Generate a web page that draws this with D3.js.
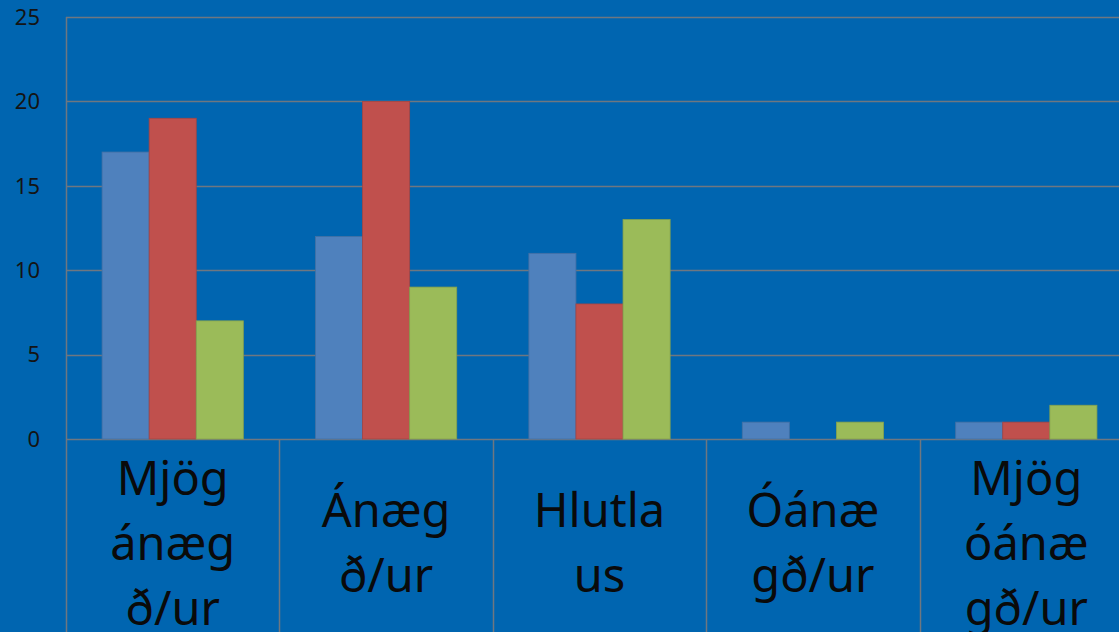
<!DOCTYPE html>
<html>
<head>
<meta charset="utf-8">
<script src="https://cdn.jsdelivr.net/npm/d3@7"></script>
<style>
  html, body { margin: 0; padding: 0; background: #0065b0; overflow: hidden; }
  svg { display: block; }
</style>
</head>
<body>
<svg class="chart"></svg>
<script>
const width = 1119,
  height = 632;

// category labels, wrapped the way the original cuts them
const categories = ['Mjög ánægð/ur', 'Ánægð/ur', 'Hlutlaus', 'Óánægð/ur', 'Mjög óánægð/ur'];
const labelLines = [
  ['Mjög', 'ánæg', 'ð/ur'],
  ['Ánæg', 'ð/ur'],
  ['Hlutla', 'us'],
  ['Óánæ', 'gð/ur'],
  ['Mjög', 'óánæ', 'gð/ur']
];
const seriesNames = ['Röð 1', 'Röð 2', 'Röð 3'];
const series1 = [17, 12, 11, 1, 1];
const series2 = [19, 20, 8, 0, 1];
const series3 = [7, 9, 13, 1, 2];
const yTicks = [0, 5, 10, 15, 20, 25];
const colors = ['#4f81bd', '#c0504d', '#9bbb59'];

const margin = { left: 66, top: 17, bottom: 439 };
const plotRight = 1133;

const allSeries = [series1, series2, series3];

let y = d3.scaleLinear()
  .domain([0, 25])
  .range([margin.bottom, margin.top]);

let x0 = d3.scaleBand()
  .domain(categories)
  .range([margin.left, plotRight])
  .paddingInner(0)
  .paddingOuter(0);

let x1 = d3.scaleBand()
  .domain(seriesNames)
  .range([0, x0.bandwidth()])
  .paddingInner(0)
  .paddingOuter(0.766);

let color = d3.scaleOrdinal()
  .domain(seriesNames)
  .range(colors);

let chart = d3.select(".chart")
  .attr("width", width)
  .attr("height", height);

// gridlines
chart.append("g")
  .selectAll("line")
  .data(yTicks)
  .join("line")
  .attr("x1", margin.left)
  .attr("x2", plotRight)
  .attr("y1", d => Math.round(y(d)) + 0.5)
  .attr("y2", d => Math.round(y(d)) + 0.5)
  .attr("stroke", "#6f7780")
  .attr("stroke-width", 1.5);

// category dividers (left axis + between categories, running down through labels)
let dividers = categories.map(c => x0(c));
chart.append("g")
  .selectAll("line")
  .data(dividers)
  .join("line")
  .attr("x1", d => Math.round(d) + 0.5)
  .attr("x2", d => Math.round(d) + 0.5)
  .attr("y1", (d, i) => i === 0 ? margin.top : margin.bottom)
  .attr("y2", height)
  .attr("stroke", "#6f7780")
  .attr("stroke-width", 1.5);

// bars
let groups = chart.append("g")
  .selectAll("g")
  .data(categories)
  .join("g")
  .attr("transform", d => `translate(${x0(d)},0)`);

groups.selectAll("rect")
  .data((c, ci) => seriesNames.map((s, si) => ({ s: s, v: allSeries[si][ci] })))
  .join("rect")
  .filter(d => d.v > 0)
  .attr("x", d => x1(d.s))
  .attr("width", x1.bandwidth())
  .attr("y", d => y(d.v))
  .attr("height", d => y(0) - y(d.v))
  .attr("fill", d => color(d.s))
  .attr("stroke", d => d3.color(color(d.s)).darker(0.4))
  .attr("stroke-width", 0.8);

// y axis labels
chart.append("g")
  .selectAll("text")
  .data(yTicks)
  .join("text")
  .attr("x", 40)
  .attr("y", d => y(d))
  .attr("dy", "0.35em")
  .attr("text-anchor", "end")
  .attr("font-family", "'Noto Sans', sans-serif")
  .attr("font-size", 22)
  .attr("fill", "#141414")
  .text(d => d);

// category labels
const lineH = 65,
  labelMid = 543;
chart.append("g")
  .selectAll("text")
  .data(categories)
  .join("text")
  .attr("text-anchor", "middle")
  .attr("font-family", "'Noto Sans', sans-serif")
  .attr("font-size", 47)
  .attr("fill", "#0a0a0a")
  .each(function(d, i) {
    let lines = labelLines[i];
    let cx = x0(d) + x0.bandwidth() / 2;
    let start = labelMid - (lines.length - 1) * lineH / 2;
    d3.select(this).selectAll("tspan")
      .data(lines)
      .join("tspan")
      .attr("x", cx)
      .attr("y", (l, j) => start + j * lineH)
      .attr("dy", "0.36em")
      .text(l => l);
  });
</script>
</body>
</html>
